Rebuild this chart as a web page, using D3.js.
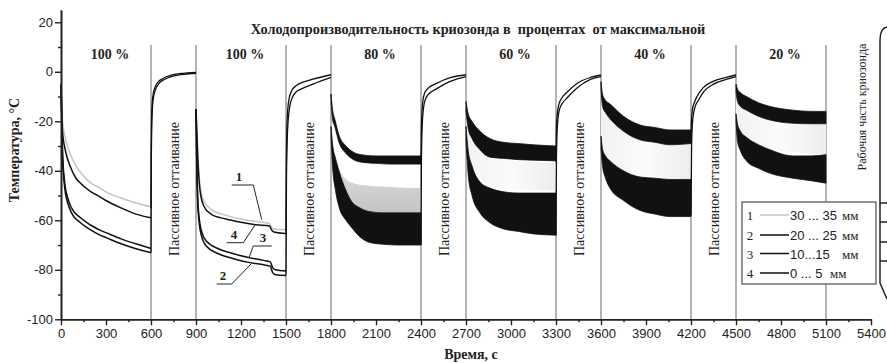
<!DOCTYPE html>
<html><head><meta charset="utf-8">
<script src="https://cdn.jsdelivr.net/npm/d3@7"></script>
<style>body{margin:0;background:#fff}</style>
</head><body>
<svg id="c" width="887" height="363"></svg>
<script>
// ---------------- DATA ----------------
const xTicks = [0,300,600,900,1200,1500,1800,2100,2400,2700,3000,3300,3600,3900,4200,4500,4800,5100,5400];
const xMinor = [150,450,750,1050,1350,1650,1950,2250,2550,2850,3150,3450,3750,4050,4350,4650,4950,5250];
const yTicks = [-100,-80,-60,-40,-20,0,20];
const yMinor = [-90,-70,-50,-30,-10,10];
const boundaries = [600,900,1500,1800,2400,2700,3300,3600,4200,4500,5100];
const activeStarts = [0,900,1800,2700,3600,4500];
const percentLabels = ["100 %","100 %","80 %","60 %","40 %","20 %"];
const passiveStarts = [600,1500,2400,3300,4200];
const passiveLabel = "Пассивное оттаивание";
const titleText = "Холодопроизводительность криозонда в  процентах  от максимальной";
const xTitle = "Время, с";
const yTitle = "Температура, °C";
const probeLabel = "Рабочая часть криозонда";
const legendNums = ["1","2","3","4"];
const legendRanges = ["30 ... 35","20 ... 25","10...15","0 ... 5"];
const legendUnit = "мм";

// 100 % segments: smooth curves [t, °C]
const seg1Curve1 = [[0,-5],[10,-20],[30,-27],[60,-33],[100,-38],[150,-42],[200,-45],[260,-47],[300,-48.5],[400,-51],[500,-53],[600,-54.5]];
const seg1Curve4 = [[0,-5],[10,-24],[30,-32],[60,-38],[100,-43],[130,-45],[200,-48.5],[260,-50.5],[300,-52],[400,-55],[500,-57.5],[600,-59]];
const seg1Curve3 = [[0,-5],[10,-32],[25,-45],[45,-51],[70,-55],[130,-59],[200,-62],[260,-64],[300,-65],[400,-67.5],[500,-69.5],[600,-71.4]];
const seg1Curve2 = [[0,-5],[10,-34],[25,-47],[45,-53],[70,-57],[130,-61],[200,-64],[260,-66],[300,-67],[400,-69.5],[500,-71.5],[600,-73.1]];
const seg3Curve1 = [[900,-15],[910,-30],[925,-45],[950,-52],[1000,-55.5],[1100,-58],[1200,-59.5],[1300,-60.5],[1390,-61.3],[1405,-63],[1420,-63.5],[1500,-63.8]];
const seg3Curve4 = [[900,-15],[910,-32],[925,-47],[950,-54],[1000,-57.5],[1100,-59.5],[1200,-60.8],[1300,-61.8],[1390,-62.3],[1405,-64],[1420,-64.7],[1500,-65.3]];
const seg3Curve3 = [[900,-15],[905,-35],[915,-55],[935,-64],[970,-68.5],[1050,-71.5],[1150,-73.5],[1250,-75],[1350,-76.2],[1395,-76.8],[1410,-79],[1430,-80],[1500,-80.5]];
const seg3Curve2 = [[900,-15],[905,-37],[915,-57],[935,-66],[970,-70.5],[1050,-73.5],[1150,-75.5],[1250,-77],[1350,-78],[1395,-78.5],[1410,-81],[1430,-82],[1500,-82.3]];

// oscillating segments: envelopes [t, top, bottom]
const band80Upper = [[1800,-9,-12],[1810,-15,-19],[1827,-19.5,-22.5],[1853,-25.5,-28.5],[1900,-30,-33],[1950,-32.5,-35.5],[2000,-33.5,-36.5],[2100,-34,-37],[2200,-34,-37.3],[2300,-34,-37.3],[2400,-34,-37.3]];
const band80Gray  = [[1800,-20,-24],[1815,-30,-38],[1840,-36,-48],[1880,-42,-54],[1950,-45,-56],[2050,-46,-57],[2200,-46.5,-57],[2400,-47,-57]];
const band80Lower = [[1800,-22,-26],[1810,-29,-38],[1830,-35,-48],[1853,-40,-54.5],[1900,-48,-60],[1933,-52,-62.6],[1993,-55,-66.7],[2060,-56.5,-69],[2150,-57,-69.7],[2250,-57,-70],[2400,-57,-70]];
const band60Upper = [[2700,-12,-16],[2715,-17,-23],[2740,-20,-27],[2793,-24,-31.5],[2860,-27,-34.5],[2950,-28.5,-35],[3050,-29,-35.5],[3150,-29.5,-35.7],[3300,-30,-36]];
const band60Gray  = [[2700,-18,-24],[2730,-27,-37],[2800,-31,-43],[2900,-35,-47],[3300,-37,-48]];
const band60Lower = [[2700,-22,-28],[2715,-32,-42],[2740,-38,-50],[2793,-44.5,-57],[2860,-47,-61],[2950,-48.5,-63.5],[3050,-49,-64.5],[3150,-49,-65.5],[3300,-49,-66]];
const band40Upper = [[3600,-4,-7],[3610,-9,-14],[3630,-11.5,-16.5],[3660,-13,-19],[3750,-18,-24],[3860,-21.5,-27.5],[3960,-22.5,-28.5],[4060,-23.5,-29.5],[4200,-23.5,-29]];
const band40Gray  = [[3600,-10,-28],[3660,-19,-36],[3800,-26,-41],[4200,-29,-43.5]];
const band40Lower = [[3600,-26,-31],[3610,-31,-38],[3630,-34,-43],[3660,-36,-47],[3750,-40,-52],[3860,-42.5,-56],[3960,-43,-57.5],[4060,-43.5,-58.5],[4200,-43.5,-58.5]];
const band20Upper = [[4500,-5,-8],[4510,-7,-12],[4530,-8.5,-14],[4570,-10,-15.5],[4650,-12.5,-18],[4727,-14,-19.5],[4880,-15.5,-20.8],[5000,-16,-21],[5100,-16,-21]];
const band20Gray  = [[4500,-8,-18],[4570,-15,-27],[4727,-19,-31],[5100,-21,-33.5]];
const band20Lower = [[4500,-17,-20],[4510,-21,-28],[4530,-24,-32],[4570,-26.5,-36],[4650,-29.5,-39],[4727,-31.5,-41],[4880,-34,-43],[5000,-34,-44],[5100,-33.5,-45]];

// passive thawing: two close traces each
const passive1A = [[600,-55],[601,-35],[603,-22],[606,-15],[612,-10],[625,-6.5],[645,-4.3],[680,-2.7],[730,-1.5],[800,-0.7],[900,-0.2]];
const passive1B = [[600,-73],[602,-38],[604.5,-24],[608,-16.5],[615,-11],[630,-7.2],[652,-4.8],[690,-3.1],[740,-1.9],[820,-1.0],[900,-0.6]];
const passive2A = [[1500,-65],[1502,-40],[1505,-25],[1510,-17],[1520,-11],[1540,-7.5],[1570,-5.5],[1600,-4.5],[1680,-3],[1800,-1.2]];
const passive2B = [[1500,-82],[1503,-45],[1507,-30],[1514,-20],[1525,-14],[1545,-10],[1570,-8],[1600,-7],[1680,-5],[1800,-2.3]];
const passive3A = [[2400,-37],[2402,-25],[2406,-17],[2412,-12],[2425,-8.5],[2450,-6.5],[2500,-4.8],[2600,-2.3],[2700,-1.2]];
const passive3B = [[2400,-70],[2403,-35],[2408,-22],[2416,-15],[2430,-11],[2460,-8.5],[2500,-7],[2600,-3.8],[2700,-2]];
const passive4A = [[3300,-36],[3302,-25],[3307,-18],[3320,-13],[3340,-10.5],[3370,-8.5],[3440,-4.7],[3530,-2.3],[3600,-1.3]];
const passive4B = [[3300,-66],[3303,-35],[3309,-22],[3322,-15.5],[3345,-12.5],[3375,-10.5],[3440,-6.6],[3530,-3.1],[3600,-2]];
const passive5A = [[4200,-28],[4203,-20],[4210,-15],[4225,-12],[4240,-10],[4280,-6.5],[4350,-3.8],[4440,-2.2],[4500,-1.3]];
const passive5B = [[4200,-58],[4204,-30],[4212,-19],[4228,-14],[4245,-12],[4285,-8],[4350,-5],[4440,-3],[4500,-2]];

// ---------------- DRAW ----------------
const svg = d3.select("#c");
const x = d3.scaleLinear().domain([0,5400]).range([61,871]);
const y = d3.scaleLinear().domain([-100,25]).range([319.3,9.9]);
const SERIF = "'Liberation Serif','Times New Roman',serif";
const SANS = "'Liberation Sans',Arial,sans-serif";
const BLACK = "#111", GRAY = "#c4c4c4";

const defs = svg.append("defs");
const gr = defs.append("linearGradient").attr("id","g80").attr("x1",0).attr("x2",0).attr("y1",0).attr("y2",1);
gr.append("stop").attr("offset","0%").attr("stop-color","#f0f0f0");
gr.append("stop").attr("offset","45%").attr("stop-color","#dedede");
gr.append("stop").attr("offset","100%").attr("stop-color","#c4c4c4");
const gf = defs.append("linearGradient").attr("id","gf").attr("x1",0).attr("x2",1).attr("y1",0).attr("y2",0);
gf.append("stop").attr("offset","0%").attr("stop-color","#f2f2f2");
gf.append("stop").attr("offset","50%").attr("stop-color","#fbfbfb");
gf.append("stop").attr("offset","100%").attr("stop-color","#ededed");

// vertical separators
svg.append("g").selectAll("line").data(boundaries).join("line")
  .attr("x1",d=>x(d)).attr("x2",d=>x(d)).attr("y1",45).attr("y2",y(-100))
  .attr("stroke","#8c8c8c").attr("stroke-width",1.3);

const line = d3.line().x(d=>x(d[0])).y(d=>y(d[1])).curve(d3.curveMonotoneX);
const area = d3.area().x(d=>x(d[0])).y1(d=>y(d[1])).y0(d=>y(d[2])).curve(d3.curveMonotoneX);

// faint gray (curve 1) bands
[[band60Gray,"url(#gf)"],[band40Gray,"url(#gf)"],[band20Gray,"url(#gf)"],[band80Gray,"url(#g80)"]].forEach(([b,c])=>{
  svg.append("path").attr("d",area(b)).attr("fill",c);
});
// black bands
[band80Upper,band80Lower,band60Upper,band60Lower,band40Upper,band40Lower,band20Upper,band20Lower].forEach(b=>{
  svg.append("path").attr("d",area(b)).attr("fill",BLACK).attr("stroke",BLACK).attr("stroke-width",0.8);
});

// smooth curves
[[seg1Curve1,GRAY],[seg1Curve4,BLACK],[seg1Curve3,BLACK],[seg1Curve2,BLACK],
 [seg3Curve1,GRAY],[seg3Curve4,BLACK],[seg3Curve3,BLACK],[seg3Curve2,BLACK]].forEach(([s,c])=>{
  svg.append("path").attr("d",line(s)).attr("fill","none").attr("stroke",c).attr("stroke-width",1.5);
});
// passive traces
[passive1A,passive1B,passive2A,passive2B,passive3A,passive3B,passive4A,passive4B,passive5A,passive5B].forEach(s=>{
  svg.append("path").attr("d",line(s)).attr("fill","none").attr("stroke",BLACK).attr("stroke-width",1.3);
});

// axes
const fmt = d=>String(d);
svg.append("g").attr("transform",`translate(0,${y(-100)})`)
  .call(d3.axisBottom(x).tickValues(xTicks).tickFormat(fmt).tickSize(6).tickSizeOuter(0).tickPadding(3));
svg.append("g").attr("transform",`translate(0,${y(-100)})`)
  .call(d3.axisBottom(x).tickValues(xMinor).tickFormat("").tickSize(3).tickSizeOuter(0));
svg.append("g").attr("transform",`translate(${x(0)},0)`)
  .call(d3.axisLeft(y).tickValues(yTicks).tickFormat(fmt).tickSize(6).tickSizeOuter(0).tickPadding(2));
svg.append("g").attr("transform",`translate(${x(0)},0)`)
  .call(d3.axisLeft(y).tickValues(yMinor).tickFormat("").tickSize(3).tickSizeOuter(0));
svg.selectAll(".domain").attr("stroke","#222").attr("stroke-width",1.6);
svg.selectAll(".tick line").attr("stroke","#222").attr("stroke-width",1.4);
svg.selectAll(".tick text").attr("font-family",SANS).attr("font-size",13).attr("fill","#222");

// axis titles
svg.append("text").attr("x",x(2700)+5).attr("y",359).attr("text-anchor","middle")
  .attr("font-family",SERIF).attr("font-size",14).attr("font-weight","bold").attr("fill","#222").text(xTitle);
svg.append("text").attr("transform","translate(19,150) rotate(-90)").attr("text-anchor","middle")
  .attr("font-family",SERIF).attr("font-size",14).attr("font-weight","bold").attr("fill","#222").text(yTitle);

// title
const tt = svg.append("text").attr("x",478).attr("y",34).attr("text-anchor","middle").style("white-space","pre")
  .attr("font-family",SERIF).attr("font-size",13).attr("font-weight","bold").attr("fill","#222").text(titleText);
const tw = tt.node().getComputedTextLength();
tt.attr("font-size",13*455/tw);

// percent labels
svg.append("g").selectAll("text").data(activeStarts).join("text")
  .attr("x",d=>x(d+300)+4).attr("y",59).attr("text-anchor","middle")
  .attr("font-family",SERIF).attr("font-size",14).attr("font-weight","bold").attr("fill","#222")
  .text((d,i)=>percentLabels[i]);

// passive labels
svg.append("g").selectAll("text").data(passiveStarts).join("text")
  .attr("transform",d=>`translate(${x(d+150)+5},189) rotate(-90)`).attr("text-anchor","middle")
  .attr("font-family",SERIF).attr("font-size",14).attr("fill","#222").text(passiveLabel);

// curve number callouts
const callouts = [
  {n:"1", tx:239, ty:181, ul:[231.7,253.3,185], to:[261.7,219.5], from:"r"},
  {n:"4", tx:234, ty:239, ul:[226.7,243.3,242.7], to:[255,225], from:"r"},
  {n:"3", tx:263, ty:242, ul:[253.3,271.7,246], to:[249.3,257], from:"l"},
  {n:"2", tx:223, ty:280, ul:[216.7,231.7,284], to:[251.7,263.3], from:"r"}
];
const cg = svg.append("g");
callouts.forEach(c=>{
  cg.append("text").attr("x",c.tx).attr("y",c.ty).attr("text-anchor","middle")
    .attr("font-family",SERIF).attr("font-size",13).attr("font-weight","bold").attr("fill","#222").text(c.n);
  cg.append("line").attr("x1",c.ul[0]).attr("x2",c.ul[1]).attr("y1",c.ul[2]).attr("y2",c.ul[2]).attr("stroke","#222").attr("stroke-width",1);
  const sx = c.from==="r"?c.ul[1]:c.ul[0];
  cg.append("line").attr("x1",sx).attr("y1",c.ul[2]).attr("x2",c.to[0]).attr("y2",c.to[1]).attr("stroke","#222").attr("stroke-width",1);
});

// legend
const lg = svg.append("g");
lg.append("rect").attr("x",742).attr("y",202).attr("width",134).attr("height",82)
  .attr("fill","#fff").attr("stroke","#666").attr("stroke-width",1.4);
const rowsY = [220,240,258.5,278];
const lineColors = [GRAY,BLACK,BLACK,BLACK];
const unitX = [842,842,842,830];
legendNums.forEach((n,i)=>{
  lg.append("text").attr("x",750).attr("y",rowsY[i]).attr("text-anchor","middle")
    .attr("font-family",SERIF).attr("font-size",13).attr("fill","#222").text(n);
  lg.append("line").attr("x1",760).attr("x2",789).attr("y1",rowsY[i]-5).attr("y2",rowsY[i]-5)
    .attr("stroke",lineColors[i]).attr("stroke-width",1.5);
  lg.append("text").attr("x",790).attr("y",rowsY[i]).style("white-space","pre")
    .attr("font-family",SANS).attr("font-size",13).attr("fill","#222").text(legendRanges[i]);
  lg.append("text").attr("x",unitX[i]).attr("y",rowsY[i]).attr("font-family",SERIF).attr("font-size",13).attr("fill","#222").text(legendUnit);
});

// probe sketch on the right
const pg = svg.append("g").attr("fill","none").attr("stroke","#222").attr("stroke-width",1.5);
pg.append("path").attr("d","M887,27 Q880,28 880,40 L880,283 L887,299");
[203,222,242,261].forEach(v=>pg.append("line").attr("x1",880).attr("x2",887).attr("y1",v).attr("y2",v));
svg.append("text").attr("transform","translate(866,107) rotate(-90)").attr("text-anchor","middle")
  .attr("font-family",SERIF).attr("font-size",12).attr("fill","#222").text(probeLabel);
</script>
</body></html>
